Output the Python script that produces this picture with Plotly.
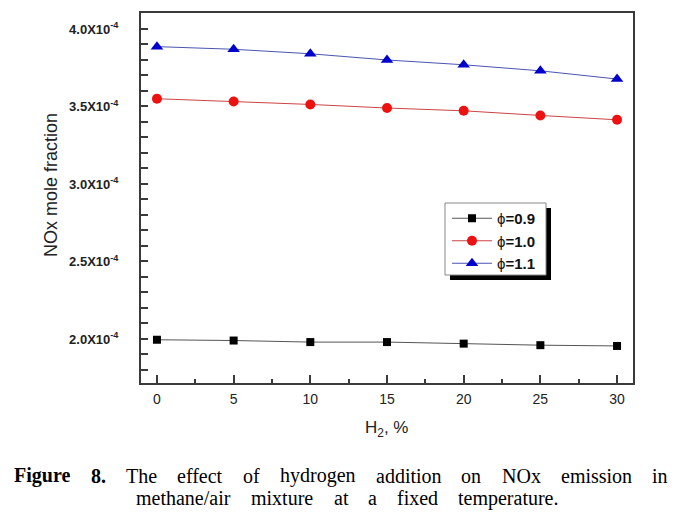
import plotly.graph_objects as go

# ---- data ----
h2_percent = [0, 5, 10, 15, 20, 25, 30]
nox_phi_09 = [1.995e-4, 1.990e-4, 1.980e-4, 1.980e-4, 1.970e-4, 1.960e-4, 1.955e-4]
nox_phi_10 = [3.550e-4, 3.532e-4, 3.513e-4, 3.490e-4, 3.472e-4, 3.442e-4, 3.414e-4]
nox_phi_11 = [3.886e-4, 3.869e-4, 3.840e-4, 3.800e-4, 3.769e-4, 3.730e-4, 3.677e-4]
series_names = ["ϕ<b>=0.9</b>", "ϕ<b>=1.0</b>", "ϕ<b>=1.1</b>"]
y_tick_vals = [2.0e-4, 2.5e-4, 3.0e-4, 3.5e-4, 4.0e-4]
y_tick_text = ["<b>2.0X10<sup>-4</sup></b>", "<b>2.5X10<sup>-4</sup></b>",
               "<b>3.0X10<sup>-4</sup></b>", "<b>3.5X10<sup>-4</sup></b>",
               "<b>4.0X10<sup>-4</sup></b>"]
x_tick_vals = [0, 5, 10, 15, 20, 25, 30]
x_minor_vals = [2.5, 7.5, 12.5, 17.5, 22.5, 27.5]

W, H = 686, 523
L, R, T, B = 141, 633, 13, 383  # plot area pixel box


def px(x):
    return (x - L) / (R - L)


def py(y):
    return (B - y) / (B - T)


fig = go.Figure()
styles = [
    dict(line_color="#555555", marker_color="#000000", marker_symbol="square", marker_size=8),
    dict(line_color="#cc4444", marker_color="#ee1111", marker_symbol="circle", marker_size=10),
    dict(line_color="#4a55b0", marker_color="#0000cc", marker_symbol="triangle-up", marker_size=11),
]
for name, ys, st in zip(series_names, [nox_phi_09, nox_phi_10, nox_phi_11], styles):
    fig.add_trace(go.Scatter(
        x=h2_percent, y=ys, name=name, mode="lines+markers",
        line=dict(color=st["line_color"], width=1),
        marker=dict(color=st["marker_color"], symbol=st["marker_symbol"], size=st["marker_size"]),
    ))

axis_line = "#3a3a3a"
fig.update_xaxes(
    range=[-1.04, 31.04], tickmode="array", tickvals=x_tick_vals,
    ticks="inside", ticklen=8, tickwidth=1.5, tickcolor=axis_line,
    minor=dict(tickmode="array", tickvals=x_minor_vals,
               ticks="inside", ticklen=4, tickwidth=1.5, tickcolor=axis_line),
    showline=True, linecolor=axis_line, linewidth=2, mirror=True,
    showgrid=False, zeroline=False,
    tickfont=dict(family="Liberation Sans, Arial", size=14, color="#222222"),
    ticklabelstandoff=2,
)
fig.update_yaxes(
    range=[1.716e-4, 4.103e-4], tickmode="array", tickvals=y_tick_vals, ticktext=y_tick_text,
    ticks="inside", ticklen=7, tickwidth=1.5, tickcolor=axis_line,
    minor=dict(tickmode="linear", tick0=0, dtick=1e-5,
               ticks="inside", ticklen=7, tickwidth=1.5, tickcolor=axis_line),
    showline=True, linecolor=axis_line, linewidth=2, mirror=True,
    showgrid=False, zeroline=False,
    tickfont=dict(family="Liberation Sans, Arial", size=13, color="#222222"),
    ticklabelstandoff=18,
)

annotations = [
    dict(text="NOx mole fraction", x=px(51), y=py(185), textangle=-90,
         xanchor="center", yanchor="middle",
         font=dict(family="Liberation Sans, Arial", size=18, color="#222222")),
    dict(text="H<sub>2</sub>, %", x=px(386), y=py(429), xanchor="center", yanchor="middle",
         font=dict(family="Liberation Sans, Arial", size=17, color="#222222")),
]
cap_font = dict(family="Liberation Serif, Times New Roman", size=20, color="#000000")
line1 = [("<b>Figure</b>", 12), ("<b>8.</b>", 89), ("The", 124), ("effect", 175), ("of", 241),
         ("hydrogen", 278), ("addition", 374), ("on", 459), ("NOx", 500), ("emission", 559),
         ("in", 650)]
line2 = [("methane/air", 134), ("mixture", 249), ("at", 332), ("a", 366), ("fixed", 395),
         ("temperature.", 456)]
for words, yc in [(line1, 476), (line2, 498)]:
    for w, xl in words:
        annotations.append(dict(text=w, x=px(xl), y=py(yc), xanchor="left", yanchor="middle",
                                font=cap_font))
for a in annotations:
    a.setdefault("xref", "paper")
    a.setdefault("yref", "paper")
    a.setdefault("showarrow", False)

# legend frame with drop shadow
shapes = [
    dict(type="rect", xref="paper", yref="paper", x0=px(450), x1=px(551),
         y0=py(280), y1=py(208), fillcolor="#000000", line=dict(width=0), layer="above"),
    dict(type="rect", xref="paper", yref="paper", x0=px(445), x1=px(546),
         y0=py(275), y1=py(203), fillcolor="#ffffff", line=dict(width=1, color="#888888"),
         layer="above"),
]

fig.update_layout(
    width=W, height=H,
    margin=dict(l=L, r=W - R, t=T, b=H - B, pad=0),
    plot_bgcolor="white", paper_bgcolor="white",
    showlegend=True,
    legend=dict(x=px(447), y=py(202), xanchor="left", yanchor="top",
                bgcolor="rgba(0,0,0,0)", borderwidth=0,
                font=dict(family="Liberation Sans, Arial", size=15, color="#111111"),
                itemwidth=40, tracegroupgap=0),
    annotations=annotations,
    shapes=shapes,
)

fig.write_html("out.html", config={"displayModeBar": False},
               post_script="document.body.style.margin='0';")
